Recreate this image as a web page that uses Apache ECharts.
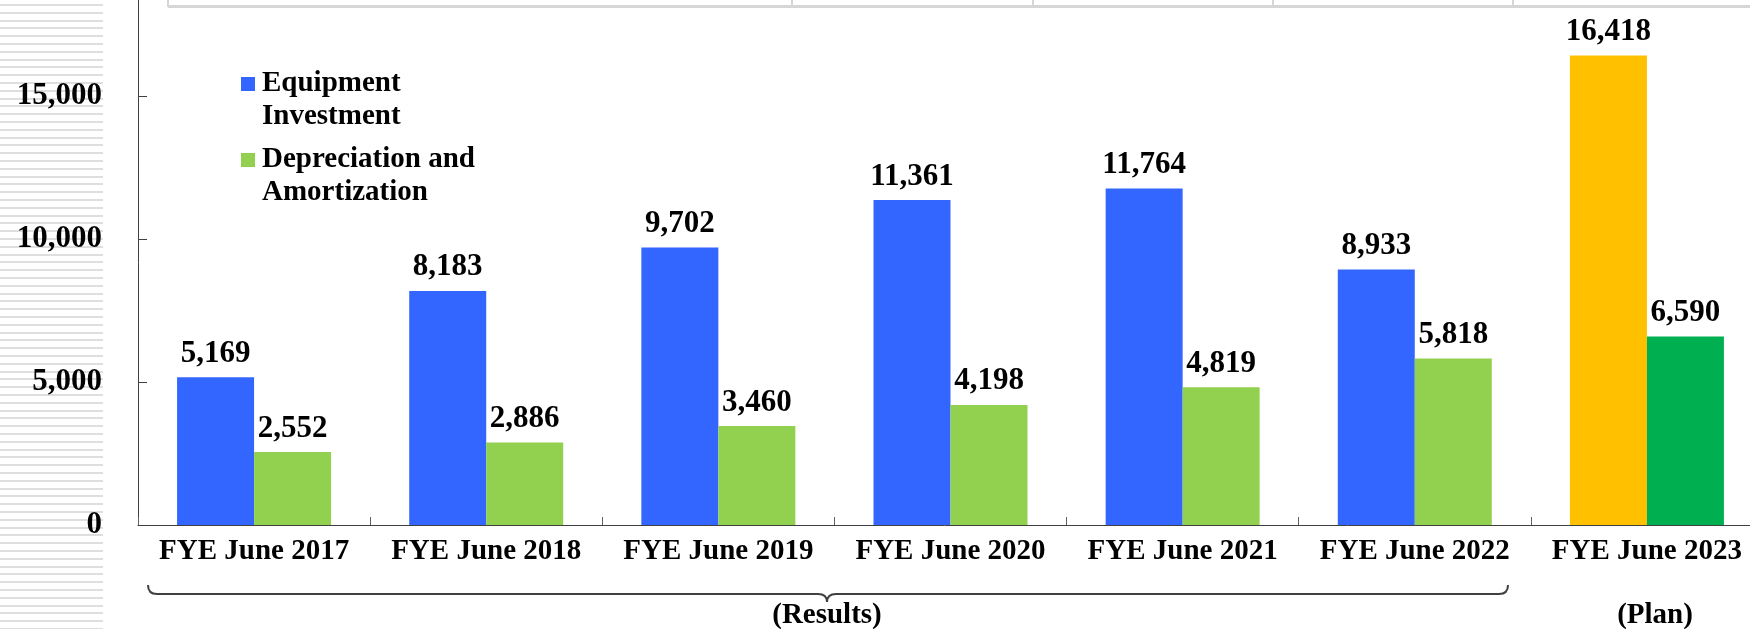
<!DOCTYPE html>
<html>
<head>
<meta charset="utf-8">
<script src="https://cdn.jsdelivr.net/npm/echarts@6/dist/echarts.min.js"></script>
<style>
html,body{margin:0;padding:0;background:#fff;}
#chart{width:1750px;height:629px;}
</style>
</head>
<body>
<div id="chart"></div>
<script>
const categories = ['FYE June 2017','FYE June 2018','FYE June 2019','FYE June 2020','FYE June 2021','FYE June 2022','FYE June 2023'];
const equipmentInvestment = [5169, 8183, 9702, 11361, 11764, 8933, 16418];
const depreciationAmortization = [2552, 2886, 3460, 4198, 4819, 5818, 6590];
const periodType = ['Results','Results','Results','Results','Results','Results','Plan'];
const seriesNames = ['Equipment Investment', 'Depreciation and Amortization'];
const legendLines = ['Equipment\nInvestment', 'Depreciation and\nAmortization'];
const groupLabels = ['(Results)', '(Plan)'];
const yTickValues = [0, 5000, 10000, 15000];
const yAxisMax = 18357;

const FONT = "'Liberation Serif', 'Times New Roman', serif";
const resultColors = ['#3366FF', '#92D050'];
const planColors = ['#FFC000', '#00B050'];

function buildData(values, si) {
  return values.map((v, i) => ({
    value: v,
    itemStyle: { color: periodType[i] === 'Plan' ? planColors[si] : resultColors[si] }
  }));
}

const chart = echarts.init(document.getElementById('chart'), null, {renderer: 'canvas'});

const graphics = [];
// striped left strip
for (let y = 4; y < 629; y += 7.8) {
  graphics.push({type: 'rect', z: -10, shape: {x: 0, y: Math.round(y), width: 103, height: 2}, style: {fill: '#dedede'}});
}
// table remnants at top
graphics.push({type: 'line', z: -5, shape: {x1: 168, y1: 6.5, x2: 1750, y2: 6.5}, style: {stroke: '#d6d6d6', lineWidth: 3}});
[168, 792, 1033, 1273, 1513].forEach(x => {
  graphics.push({type: 'line', z: -5, shape: {x1: x, y1: 0, x2: x, y2: 7}, style: {stroke: '#d6d6d6', lineWidth: 2}});
});
// legend
graphics.push({type: 'rect', shape: {x: 241, y: 77, width: 14, height: 14}, style: {fill: resultColors[0]}});
graphics.push({type: 'text', x: 262, y: 67, style: {text: legendLines[0], font: "bold 29px " + FONT, lineHeight: 33, fill: '#000', verticalAlign: 'top'}});
graphics.push({type: 'rect', shape: {x: 241, y: 153, width: 14, height: 14}, style: {fill: resultColors[1]}});
graphics.push({type: 'text', x: 262, y: 143, style: {text: legendLines[1], font: "bold 29px " + FONT, lineHeight: 33, fill: '#000', verticalAlign: 'top'}});
// brace under results
const braceStyle = {stroke: '#404040', lineWidth: 2, fill: null};
graphics.push({type: 'bezierCurve', shape: {x1: 148, y1: 585, cpx1: 148, cpy1: 594, x2: 157, y2: 594}, style: braceStyle});
graphics.push({type: 'line', shape: {x1: 157, y1: 594, x2: 818, y2: 594}, style: braceStyle});
graphics.push({type: 'bezierCurve', shape: {x1: 818, y1: 594, cpx1: 827, cpy1: 594, x2: 827, y2: 602}, style: braceStyle});
graphics.push({type: 'bezierCurve', shape: {x1: 827, y1: 602, cpx1: 827, cpy1: 594, x2: 836, y2: 594}, style: braceStyle});
graphics.push({type: 'line', shape: {x1: 836, y1: 594, x2: 1499, y2: 594}, style: braceStyle});
graphics.push({type: 'bezierCurve', shape: {x1: 1499, y1: 594, cpx1: 1508, cpy1: 594, x2: 1508, y2: 585}, style: braceStyle});
graphics.push({type: 'text', x: 827, y: 616, style: {text: groupLabels[0], font: "bold 29px " + FONT, fill: '#000', align: 'center', verticalAlign: 'middle'}});
graphics.push({type: 'text', x: 1655, y: 616, style: {text: groupLabels[1], font: "bold 29px " + FONT, fill: '#000', align: 'center', verticalAlign: 'middle'}});

const labelStyle = {
  show: true,
  position: 'top',
  distance: 8,
  fontFamily: FONT,
  fontWeight: 'bold',
  fontSize: 31,
  color: '#000',
  formatter: p => Number(p.value).toLocaleString('en-US')
};

chart.setOption({
  backgroundColor: '#fff',
  animation: false,
  grid: {left: 138, top: 0, width: 1625, height: 525, containLabel: false, outerBoundsMode: 'none'},
  xAxis: {
    type: 'category',
    data: categories,
    axisLine: {lineStyle: {color: '#404040', width: 1}},
    axisTick: {show: true, inside: true, length: 8, lineStyle: {color: '#606060'}},
    axisLabel: {fontFamily: FONT, fontWeight: 'bold', fontSize: 29, color: '#000', margin: 12, interval: 0}
  },
  yAxis: {
    type: 'value',
    min: 0,
    max: yAxisMax,
    interval: 5000,
    splitLine: {show: false},
    axisLine: {show: true, lineStyle: {color: '#404040', width: 1}},
    axisTick: {show: true, inside: true, length: 9, lineStyle: {color: '#404040'}, customValues: yTickValues},
    axisLabel: {fontFamily: FONT, fontWeight: 'bold', fontSize: 31, color: '#000', margin: 36,
      customValues: yTickValues,
      formatter: v => Number(v).toLocaleString('en-US')}
  },
  series: [
    {name: seriesNames[0], type: 'bar', barWidth: 77, barGap: '0%', data: buildData(equipmentInvestment, 0), label: labelStyle},
    {name: seriesNames[1], type: 'bar', barWidth: 77, barGap: '0%', data: buildData(depreciationAmortization, 1), label: labelStyle}
  ],
  graphic: graphics
});
</script>
</body>
</html>
